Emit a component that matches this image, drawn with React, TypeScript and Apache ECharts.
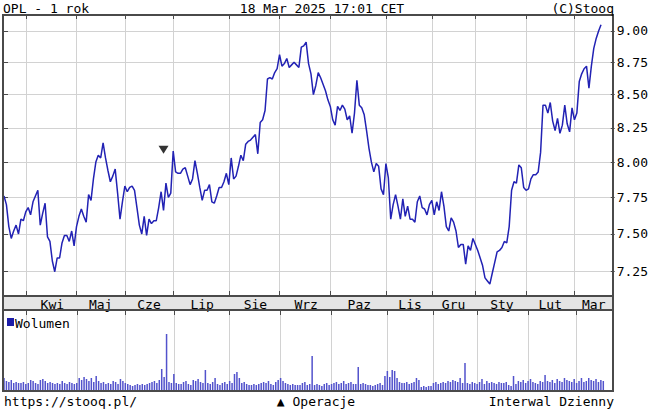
import React, { useEffect, useRef } from "react";
import * as echarts from "echarts";

// ---- data ----
const START_DATE = "2024-03-18";
const END_DATE = "2025-03-24"; // last 4 sessions are empty right margin
const HOLIDAYS = [
  "2024-03-29", "2024-04-01", "2024-05-01", "2024-05-03", "2024-05-30",
  "2024-08-15", "2024-11-01", "2024-11-11", "2024-12-24", "2024-12-25",
  "2024-12-26", "2024-12-31", "2025-01-01", "2025-01-06",
];
const MONTHS_PL = ["Sty", "Lut", "Mar", "Kwi", "Maj", "Cze", "Lip", "Sie", "Wrz", "Paz", "Lis", "Gru"];
const Y_TICKS = [7.25, 7.5, 7.75, 8.0, 8.25, 8.5, 8.75, 9.0];

const PRICE = [
  7.76, 7.70, 7.55, 7.47, 7.52, 7.56, 7.50, 7.60, 7.59, 7.65,
  7.68, 7.63, 7.72, 7.76, 7.80, 7.56, 7.64, 7.71, 7.48, 7.45,
  7.32, 7.25, 7.34, 7.34, 7.44, 7.49, 7.49, 7.45, 7.52, 7.42,
  7.55, 7.62, 7.67, 7.62, 7.58, 7.77, 7.73, 7.88, 8.00, 8.05,
  8.03, 8.14, 8.03, 7.94, 7.86, 7.90, 7.95, 7.78, 7.60, 7.72,
  7.83, 7.79, 7.82, 7.83, 7.80, 7.68, 7.56, 7.50, 7.62, 7.49,
  7.60, 7.57, 7.59, 7.59, 7.68, 7.79, 7.66, 7.85, 7.75, 7.78,
  8.08, 7.93, 7.92, 7.92, 7.95, 7.96, 7.90, 7.84, 7.88, 8.01,
  7.92, 7.82, 7.73, 7.80, 7.80, 7.84, 7.72, 7.71, 7.76, 7.82,
  7.82, 7.86, 7.92, 7.84, 8.03, 7.88, 7.90, 7.97, 8.05, 8.01,
  8.13, 8.15, 8.16, 8.18, 8.20, 8.06, 8.29, 8.31, 8.38, 8.62,
  8.63, 8.62, 8.67, 8.70, 8.81, 8.72, 8.74, 8.78, 8.71, 8.73,
  8.75, 8.73, 8.71, 8.87, 8.88, 8.91, 8.74, 8.66, 8.50, 8.57,
  8.67, 8.63, 8.58, 8.53, 8.46, 8.41, 8.31, 8.27, 8.41, 8.38,
  8.42, 8.39, 8.31, 8.34, 8.21, 8.36, 8.61, 8.42, 8.40, 8.35,
  8.23, 8.10, 8.00, 7.93, 7.99, 7.97, 7.81, 7.77, 7.99, 7.89,
  7.60, 7.70, 7.77, 7.69, 7.60, 7.74, 7.62, 7.69, 7.60, 7.60,
  7.58, 7.72, 7.76, 7.68, 7.67, 7.63, 7.70, 7.73, 7.63, 7.72,
  7.66, 7.79, 7.69, 7.55, 7.52, 7.61, 7.58, 7.52, 7.41, 7.43,
  7.43, 7.30, 7.42, 7.39, 7.47, 7.43, 7.39, 7.34, 7.29, 7.21,
  7.19, 7.17, 7.24, 7.31, 7.38, 7.39, 7.41, 7.45, 7.44, 7.55,
  7.80, 7.86, 7.85, 7.98, 7.96, 7.82, 7.80, 7.81, 7.88, 7.91,
  7.91, 7.93, 8.07, 8.42, 8.42, 8.36, 8.44, 8.30, 8.23, 8.32,
  8.21, 8.27, 8.42, 8.28, 8.22, 8.40, 8.31, 8.36, 8.60, 8.66,
  8.70, 8.72, 8.55, 8.72, 8.86, 8.94, 9.00, 9.05,
];

// volume, thousands of shares
const VOLUME = [
  2400, 1800, 1600, 2000, 1400, 1600, 1400, 1400, 1600, 1200,
  1400, 2000, 1800, 1400, 1200, 2000, 2200, 1800, 1400, 1600,
  1400, 1200, 1400, 1200, 1800, 1400, 1200, 1600, 1400, 1200,
  1400, 2400, 2000, 2600, 2200, 1800, 2400, 1600, 2800, 1800,
  1400, 1600, 1200, 1400, 1200, 1800, 1600, 1200, 2200, 1800,
  1400, 1200, 1000, 800, 1000, 1200, 1000, 1200, 1000, 1200,
  1400, 1600, 1800, 1400, 2000, 4200, 2600, 11200, 1600, 1400,
  3200, 1400, 1200, 1200, 1600, 1800, 1200, 1000, 2000, 1800,
  2200, 1600, 1400, 4000, 1400, 1200, 1600, 2400, 1200, 1000,
  1400, 1600, 1200, 1800, 1400, 3200, 3600, 2400, 1400, 1600,
  1200, 1000, 1000, 1200, 1000, 1200, 1400, 1600, 1400, 1800,
  1200, 1000, 1600, 2000, 2400, 1800, 1400, 1200, 1000, 1200,
  1000, 1000, 1000, 1400, 1600, 1000, 1200, 6800, 1000, 1200,
  1000, 800, 1200, 1400, 1000, 1200, 1400, 1600, 1200, 1400,
  1800, 1200, 1400, 1600, 1200, 1200, 4600, 1200, 1400, 1200,
  1000, 1000, 800, 1000, 1200, 1400, 1000, 2800, 3800, 2600,
  4000, 3800, 2400, 1600, 1400, 1400, 1600, 1200, 1400, 1600,
  2400, 2000, 600, 800, 600, 800, 800, 1400, 1600, 1200,
  1400, 1600, 1400, 1800, 1600, 2000, 1800, 1600, 2400, 1400,
  5400, 1400, 1200, 1600, 1400, 1200, 1600, 2200, 1200, 1800,
  1400, 1600, 1400, 1200, 1600, 1400, 1400, 1600, 1000, 800,
  2800, 1200, 1800, 1600, 2000, 1400, 1800, 2200, 1600, 1400,
  1200, 1800, 1600, 3000, 1800, 1600, 2000, 1400, 2200, 1800,
  1600, 2400, 2000, 1800, 1600, 2200, 1400, 1800, 2400, 1600,
  1800, 2400, 2000, 1800, 2200, 1600, 2000, 1800,
];

const OPERATION_DATE = "2024-06-25";
const OPERATION_LEVEL = 8.09;

// ---- helpers ----
function tradingDays(start: string, end: string, holidays: string[]): string[] {
  const out: string[] = [];
  const d = new Date(start + "T00:00:00Z");
  const e = new Date(end + "T00:00:00Z");
  while (d <= e) {
    const wd = d.getUTCDay();
    const s = d.toISOString().slice(0, 10);
    if (wd !== 0 && wd !== 6 && holidays.indexOf(s) < 0) out.push(s);
    d.setUTCDate(d.getUTCDate() + 1);
  }
  return out;
}

const DATES = tradingDays(START_DATE, END_DATE, HOLIDAYS);
const monthStarts = new Set<number>();
const labelByDate = new Map<string, string>();
{
  let groupStart = 0;
  for (let i = 1; i <= DATES.length; i++) {
    if (i === DATES.length || DATES[i].slice(0, 7) !== DATES[i - 1].slice(0, 7)) {
      if (groupStart > 0) {
        const mid = Math.round((groupStart + i) / 2);
        labelByDate.set(DATES[mid], MONTHS_PL[Number(DATES[groupStart].slice(5, 7)) - 1]);
      }
      if (i < DATES.length) monthStarts.add(i);
      groupStart = i;
    }
  }
}

const FONT = '"DejaVu Sans Mono", monospace';
const GRID_COLOR = "#d2d2d2";
const FRAME = "#4a4a4a";
const LN_TICKS = Y_TICKS.map(Math.log);
const Y_MIN = Math.log(7.10);
const Y_MAX = Math.log(9.13);
const isMonthStart = (i: number) => monthStarts.has(i);

function txt(text: string, x: number, y: number, align: string) {
  return {
    type: "text",
    z: 60,
    x,
    y,
    style: {
      text,
      font: `13px ${FONT}`,
      fill: "#000",
      align,
      verticalAlign: "middle",
      textAlign: align,
      textVerticalAlign: "middle",
    },
  };
}

const xSplit = { show: true, interval: isMonthStart, lineStyle: { color: GRID_COLOR, width: 1 } };

export default function App() {
  const ref = useRef<HTMLDivElement>(null);
  useEffect(() => {
    if (!ref.current) return;
    const chart = echarts.init(ref.current, undefined, { renderer: "svg" });
    const opIdx = DATES.indexOf(OPERATION_DATE);
    const option: any = {
      animation: false,
      grid: [
        { left: 4, top: 15, width: 609, height: 280 },
        { left: 4, top: 311, width: 609, height: 79 },
      ],
      xAxis: [
        {
          gridIndex: 0, type: "category", data: DATES, boundaryGap: false,
          axisLine: { show: false },
          axisTick: { show: true, inside: true, length: 4, interval: isMonthStart, lineStyle: { color: FRAME } },
          splitLine: xSplit,
          axisLabel: {
            interval: (_i: number, v: string) => labelByDate.has(v),
            formatter: (v: string) => labelByDate.get(v) || "",
            margin: 3, fontFamily: FONT, fontSize: 13, color: "#000",
          },
        },
        {
          gridIndex: 0, type: "category", data: DATES, boundaryGap: false, position: "top",
          axisLine: { show: false },
          axisTick: { show: true, inside: true, length: 4, interval: isMonthStart, lineStyle: { color: FRAME } },
          axisLabel: { show: false }, splitLine: { show: false },
        },
        {
          gridIndex: 1, type: "category", data: DATES, boundaryGap: false,
          axisLine: { show: false }, axisTick: { show: false }, axisLabel: { show: false },
          splitLine: xSplit,
        },
        {
          gridIndex: 1, type: "category", data: DATES, boundaryGap: false, position: "top",
          axisLine: { show: false },
          axisTick: { show: true, inside: true, length: 4, interval: isMonthStart, lineStyle: { color: FRAME } },
          axisLabel: { show: false }, splitLine: { show: false },
        },
      ],
      yAxis: [
        {
          gridIndex: 0, type: "value", position: "right", min: Y_MIN, max: Y_MAX,
          axisLine: { show: false },
          axisTick: { show: true, customValues: LN_TICKS, length: 4, lineStyle: { color: FRAME } },
          axisLabel: {
            customValues: LN_TICKS,
            formatter: (v: number) => Math.exp(v).toFixed(2),
            margin: 6, fontFamily: FONT, fontSize: 13, color: "#000",
          },
          splitLine: { show: true, lineStyle: { color: GRID_COLOR, width: 1 } },
        },
        {
          gridIndex: 0, type: "value", position: "left", min: Y_MIN, max: Y_MAX,
          axisLine: { show: false },
          axisTick: { show: true, inside: true, customValues: LN_TICKS, length: 4, lineStyle: { color: FRAME } },
          axisLabel: { show: false }, splitLine: { show: false },
        },
        {
          gridIndex: 1, type: "value", min: 0, max: 15800,
          axisLine: { show: false }, axisTick: { show: false }, axisLabel: { show: false }, splitLine: { show: false },
        },
      ],
      series: [
        {
          name: "OPL", type: "line", xAxisIndex: 0, yAxisIndex: 0,
          data: PRICE.map(Math.log), symbol: "none", z: 5,
          lineStyle: { color: "#2222b4", width: 1.5 },
        },
        {
          name: "Operacje", type: "scatter", xAxisIndex: 0, yAxisIndex: 0,
          data: [[opIdx, Math.log(OPERATION_LEVEL)]],
          symbol: "triangle", symbolRotate: 180, symbolSize: [10, 8],
          itemStyle: { color: "#000" }, z: 6,
        },
        {
          name: "Wolumen", type: "bar", xAxisIndex: 2, yAxisIndex: 2,
          data: VOLUME, barWidth: 1.5, itemStyle: { color: "#5252cc" }, z: 3,
        },
      ],
      graphic: [
        // translucent dark tint: light grey band over white, black labels stay black
        { type: "rect", z: 40, shape: { x: 3, y: 296, width: 610, height: 14 }, style: { fill: "rgba(0,0,0,0.106)" } },
        { type: "line", z: 50, shape: { x1: 3, y1: 296, x2: 613, y2: 296 }, style: { stroke: FRAME, lineWidth: 2 } },
        { type: "line", z: 50, shape: { x1: 3, y1: 310, x2: 613, y2: 310 }, style: { stroke: FRAME, lineWidth: 2 } },
        { type: "line", z: 50, shape: { x1: 3, y1: 15, x2: 613, y2: 15 }, style: { stroke: FRAME, lineWidth: 2 } },
        { type: "line", z: 50, shape: { x1: 3, y1: 391, x2: 613, y2: 391 }, style: { stroke: FRAME, lineWidth: 2 } },
        { type: "line", z: 50, shape: { x1: 3, y1: 14, x2: 3, y2: 392 }, style: { stroke: FRAME, lineWidth: 2 } },
        { type: "line", z: 50, shape: { x1: 613, y1: 14, x2: 613, y2: 392 }, style: { stroke: FRAME, lineWidth: 2 } },
        { type: "rect", z: 60, shape: { x: 7, y: 318, width: 7, height: 8 }, style: { fill: "#1c1ca8" } },
        txt("Wolumen", 15, 323, "left"),
        txt("OPL - 1 rok", 3, 8, "left"),
        txt("18 Mar 2025 17:01 CET", 322, 8, "center"),
        txt("(C)Stooq", 614, 8, "right"),
        txt("https://stooq.pl/", 4, 401, "left"),
        txt("\u25B2 Operacje", 316, 401, "center"),
        txt("Interwal Dzienny", 614, 401, "right"),
      ],
    };
    chart.setOption(option);
    return () => chart.dispose();
  }, []);
  return (
    <div
      ref={ref}
      style={{ position: "absolute", left: 0, top: 0, width: 651, height: 412, background: "#fff" }}
    />
  );
}
